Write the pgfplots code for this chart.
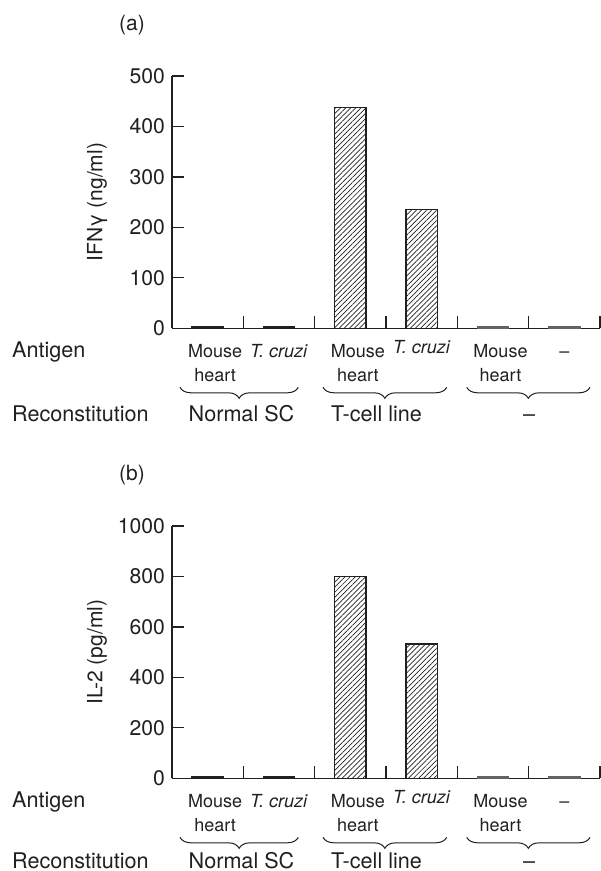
\documentclass[border=0pt]{standalone}
\usepackage{fontspec}
\setmainfont{TeX Gyre Heros}
\usepackage{pgfplots}
\pgfplotsset{compat=1.18}
\usetikzlibrary{patterns.meta,decorations.pathreplacing}
\definecolor{ink}{HTML}{231F20}

\newcommand{\mh}{\hspace*{7.5pt}\begin{tabular}[t]{@{}c@{}}Mouse\\heart\end{tabular}}
\newcommand{\tc}{\textit{T. cruzi}}

\pgfplotsset{
  panel/.style={
    scale only axis, width=214pt, height=126.15pt,
    axis lines*=left, axis line style={ink, line width=0.8pt},
    xmin=0, xmax=6, ymin=0,
    xtick={1,...,6}, xticklabels={},
    tick align=inside, major tick length=6pt,
    tick style={ink, line width=0.6pt},
    extra x ticks={0.5,1.5,...,5.5},
    extra x tick style={major tick length=0pt, tick style={draw=none}},
    extra x tick labels={\mh, \tc, \mh, \raisebox{1.7pt}{\tc}, \mh, –},
    xticklabel style={font=\fontsize{9}{12.2}\selectfont, anchor=base, yshift=-14.5pt, text=ink},
    yticklabel style={font=\fontsize{10.6}{12}\selectfont, text=ink},
    /pgf/number format/assume math mode=true,
    /pgf/number format/1000 sep={},
    y label style={at={(axis description cs:-0.1752,0.5)}, anchor=center,
      font=\fontsize{10.5}{12}\selectfont, text=ink},
    clip=false,
  },
  hbar/.style={ybar, bar width=0.44, draw=ink, line width=0.6pt,
    pattern={Lines[angle=45,distance=1.8pt,line width=0.35pt]}, pattern color=ink},
  lowbar/.style={ybar, bar width=0.44, draw=#1, fill=#1, line width=0.6pt},
}

\begin{document}
\begin{tikzpicture}
\useasboundingbox (0,0) rectangle (300pt,-435.5pt);

% (a) IFN-gamma
\begin{axis}[panel, at={(86pt,-164.15pt)}, anchor=south west,
  ymax=500, ytick={0,100,...,500}, ylabel={IFNγ (ng/ml)}]
\addplot[lowbar=ink] coordinates {(0.5,3) (1.5,3)};
\addplot[hbar] coordinates {(2.5,437) (3.5,236)};
\addplot[lowbar=ink!70] coordinates {(4.5,3) (5.5,3)};
\end{axis}

% (b) IL-2
\begin{axis}[panel, at={(86pt,-389.15pt)}, anchor=south west,
  ymax=1000, ytick={0,200,...,1000}, ylabel={IL-2 (pg/ml)}]
\addplot[lowbar=ink] coordinates {(0.5,6) (1.5,6)};
\addplot[hbar] coordinates {(2.5,800) (3.5,532)};
\addplot[lowbar=ink!70] coordinates {(4.5,6) (5.5,6)};
\end{axis}

\foreach \dy/\ry/\tag in {0pt/-210.85pt/a, -225pt/-209.3pt/b} {
  \begin{scope}[yshift=\dy, text=ink, font=\fontsize{10.8}{13}\selectfont]
    \node[font=\fontsize{10.5}{12}\selectfont] at (66pt,-12.5pt) {(\tag)};
    \node[anchor=base west, inner sep=0pt] at (5.85pt,-178.65pt) {Antigen};
    \node[anchor=base west, inner sep=0pt] at (5.85pt,\ry) {Reconstitution};
    \node[anchor=base west, inner sep=0pt] at (94.15pt,\ry) {Normal SC};
    \node[anchor=base west, inner sep=0pt] at (165.35pt,\ry) {T-cell line};
    \node[anchor=base, inner sep=0pt] at (264.5pt,\ry) {–};
    \draw[ink, line width=0.5pt, decorate, decoration={brace, mirror, amplitude=5.5pt}]
      (90pt,-193.65pt) -- (149.15pt,-193.65pt);
    \draw[ink, line width=0.5pt, decorate, decoration={brace, mirror, amplitude=5.5pt}]
      (161.5pt,-193.65pt) -- (223.35pt,-193.65pt);
    \draw[ink, line width=0.5pt, decorate, decoration={brace, mirror, amplitude=5.5pt}]
      (233.35pt,-193.65pt) -- (295pt,-193.65pt);
  \end{scope}
}
\end{tikzpicture}
\end{document}
